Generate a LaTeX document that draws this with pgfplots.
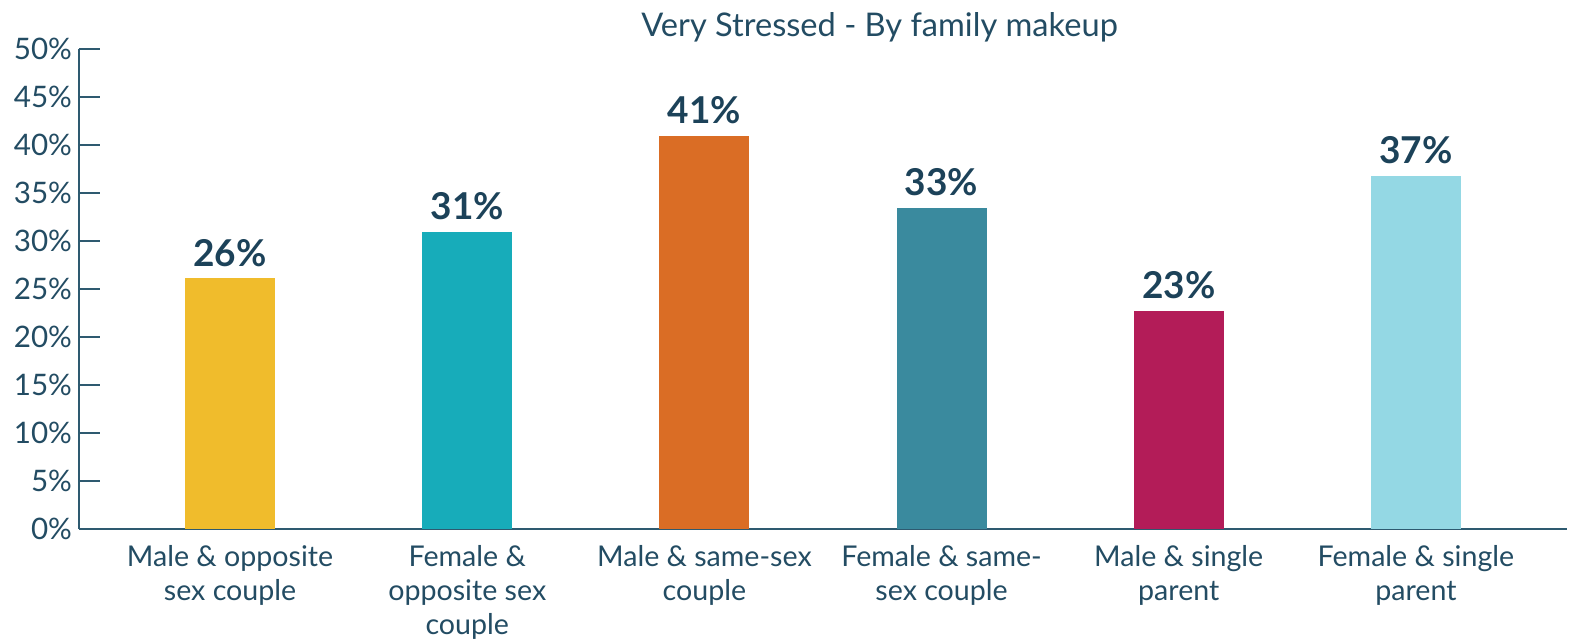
\documentclass[border=0pt]{standalone}
\usepackage{pgfplots}
\pgfplotsset{compat=1.18}
\usepackage{fontspec}
\setmainfont{Lato}
\definecolor{txt}{HTML}{234C63}
\definecolor{lbl}{HTML}{1C4259}
\definecolor{axc}{HTML}{2E5A70}
\definecolor{c1}{HTML}{F0BC2C}
\definecolor{c2}{HTML}{17ACBA}
\definecolor{c3}{HTML}{DA6D25}
\definecolor{c4}{HTML}{3A8A9E}
\definecolor{c5}{HTML}{B31C58}
\definecolor{c6}{HTML}{94D8E4}
\begin{document}
\begin{tikzpicture}
\useasboundingbox (-39.5pt,-55.5pt) rectangle (753pt,264.5pt);
\begin{axis}[
  scale only axis,
  width=744pt, height=240pt,
  xmin=-0.637, xmax=5.637,
  ymin=0, ymax=50,
  ytick={0,5,...,50},
  yticklabel={\pgfmathprintnumber{\tick}\%},
  /pgf/number format/assume math mode=true,
  axis x line=bottom, axis y line=left,
  axis line style={axc, line width=0.9pt, -},
  y tick style={axc, line width=0.9pt},
  major tick length=10.5pt,
  ytick align=inside,
  xtick={0,...,5},
  xtick style={draw=none},
  xticklabels={Male \& opposite\\sex couple, Female \&\\opposite sex\\couple, Male \& same-sex\\couple, Female \& same-\\sex couple, Male \& single\\parent, Female \& single\\parent},
  xticklabel style={align=center, font=\fontsize{14.3}{17}\selectfont, text=txt, yshift=6pt},
  yticklabel style={font=\fontsize{14.8}{16}\selectfont, text=txt, xshift=0pt},
  ybar, bar width=45pt, bar shift=0pt,
  nodes near coords={\pgfmathprintnumber[fixed,precision=0]{\pgfplotspointmeta}\%},
  nodes near coords style={font=\bfseries\fontsize{18.5}{20}\selectfont, text=lbl, yshift=2.5pt},
  clip=false,
]
\addplot[fill=c1, draw=none] coordinates {(0,26.1)};
\addplot[fill=c2, draw=none] coordinates {(1,30.9)};
\addplot[fill=c3, draw=none] coordinates {(2,40.9)};
\addplot[fill=c4, draw=none] coordinates {(3,33.4)};
\addplot[fill=c5, draw=none] coordinates {(4,22.7)};
\addplot[fill=c6, draw=none] coordinates {(5,36.8)};
\node[font=\fontsize{16.3}{18}\selectfont, text=txt] at (rel axis cs:0.538,1) [yshift=11pt] {Very Stressed - By family makeup};
\end{axis}
\end{tikzpicture}
\end{document}
